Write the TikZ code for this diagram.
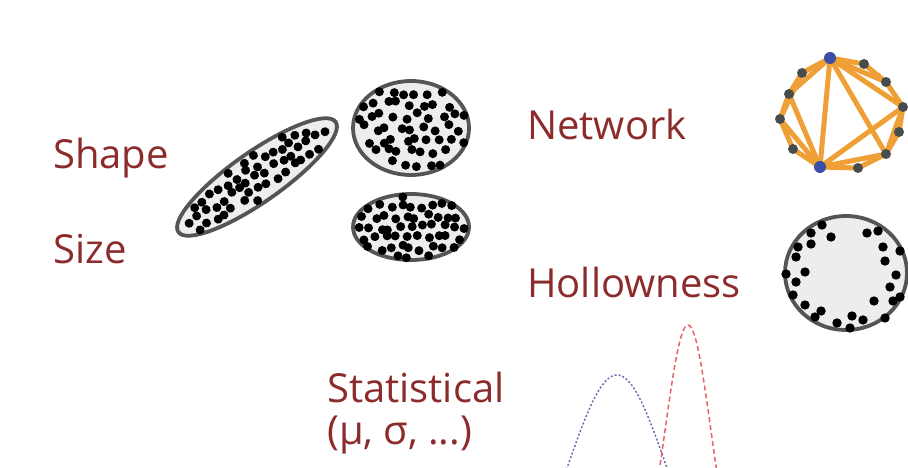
\documentclass[tikz,border=0pt]{standalone}
\usepackage{fontspec}
\setmainfont{Open Sans}
\definecolor{lbl}{HTML}{8C2B2C}
\definecolor{rim}{HTML}{555555}
\definecolor{inner}{HTML}{ECEDEF}
\definecolor{edge}{HTML}{EE9F35}
\definecolor{vtx}{HTML}{474C4C}
\definecolor{hub}{HTML}{3A4EA6}
\definecolor{gblue}{HTML}{6B6FB3}
\definecolor{gred}{HTML}{E2656A}
\tikzset{
  lab/.style={anchor=base west,inner sep=0pt,text=lbl,font=\fontsize{40}{45}\selectfont},
  blob/.style={draw=rim,line width=3.8pt,fill=inner},
  dot/.style={fill=black},
  link/.style={draw=edge,line width=5pt,line cap=round},
  vdot/.style={fill=vtx},
  hdot/.style={fill=hub}
}
% jittered dots inside an ellipse of semi-axes #1,#2; grid spacing #3, jitter #4
\newcommand\scatterdots[4]{%
  \pgfmathtruncatemacro\nxx{#1/#3+1}%
  \pgfmathtruncatemacro\nyy{#2/#3+1}%
  \foreach \ii in {-\nxx,...,\nxx}{\foreach \jj in {-\nyy,...,\nyy}{%
    \pgfmathsetmacro\px{\ii*#3+0.5*#3*mod(abs(\jj),2)+#4*rand}%
    \pgfmathsetmacro\py{\jj*#3+#4*rand}%
    \pgfmathsetmacro\ins{(\px/#1)^2+(\py/#2)^2<1 ? 1 : 0}%
    \ifdim\ins pt>0.5pt \fill[dot] (\px,\py) circle[radius=4.5];\fi
  }}}
\begin{document}
\begin{tikzpicture}[x=1pt,y=-1pt]
\useasboundingbox (0,0) rectangle (908,468);
\begin{scope}
\clip (0,0) rectangle (908,468);
% labels
\node[lab] (shape) at (53,168) {Shape};
\node[lab] (size) at (53,263) {Size};
\node[lab] (network) at (527,140) {Network};
\node[lab] (hollow) at (527,297) {Hollowness};
\node[lab] (stat) at (327,402) {Statistical};
\node[lab] (params) at (327,444) {(μ, σ, ...)};
\pgfmathsetseed{23}
% tilted ellipse
\draw[blob,rotate around={35:(257,177)}] (257,177) ellipse [x radius=96, y radius=25];
\begin{scope}[shift={(257,177)},rotate=35]
\scatterdots{91}{21}{10.5}{3}
\end{scope}
% top circle
\draw[blob] (411,128) ellipse [x radius=58, y radius=47];
\begin{scope}[shift={(411,128)}]
\scatterdots{56}{45}{12}{3.5}
\end{scope}
% bottom ellipse
\draw[blob] (411,227) ellipse [x radius=58, y radius=33];
\begin{scope}[shift={(411,227)}]
\scatterdots{57}{32}{10.5}{3}
\end{scope}
% hollow circle
\draw[blob] (846,273) ellipse [x radius=61, y radius=57];
\foreach \p in {(822,225),(811,233),(831,237),(867,233),(878,231),(798,247),(811,244),(883,247),(900,251),(796,257),(885,261),(786,274),(805,272),(896,275),(796,282),(890,287),(793,295),(900,297),(893,301),(874,301),(805,305),(821,311),(815,317),(852,316),(863,320),(837,323),(885,318),(850,328)}
  \fill[dot] \p circle[radius=4.7];
% network
\coordinate (n1) at (830,58);
\coordinate (n2) at (864,64);
\coordinate (n3) at (886,82);
\coordinate (n4) at (903,107);
\coordinate (n5) at (899,132);
\coordinate (n6) at (886,154);
\coordinate (n7) at (858,168);
\coordinate (n8) at (820,167);
\coordinate (n9) at (793,149);
\coordinate (n10) at (780,119);
\coordinate (n11) at (789,94);
\coordinate (n12) at (802,73);
\draw[link] (n1)--(n2)--(n3)--(n4)--(n5)--(n6)--(n7)--(n8)--(n9)--(n10)--(n11)--(n12)--cycle;
\draw[link] (n1)--(n3);
\draw[link] (n1)--(n4);
\draw[link] (n1)--(n6);
\draw[link] (n1)--(n8);
\draw[link] (n1)--(n11);
\draw[link] (n12)--(n10);
\draw[link] (n8)--(n11);
\draw[link] (n8)--(n10);
\draw[link] (n8)--(n4);
\draw[link] (n8)--(n6);
\draw[link] (n4)--(n6);
\foreach \n in {n2,n3,n4,n5,n6,n7,n9,n10,n11,n12}
  \fill[vdot] (\n) circle[radius=5];
\fill[hdot] (n1) circle[radius=6];
\fill[hdot] (n8) circle[radius=6];
% distributions
\draw[gblue,line width=1.5pt,dash pattern=on 2pt off 2pt] plot[domain=540:700,samples=80,smooth] (\x,{600-225*exp(-((\x-617)^2)/4690)});
\draw[gred,line width=1.5pt,dash pattern=on 5pt off 3pt] plot[domain=640:740,samples=80,smooth] (\x,{600-275*exp(-((\x-688)^2)/1090)});
\end{scope}
\end{tikzpicture}
\end{document}
